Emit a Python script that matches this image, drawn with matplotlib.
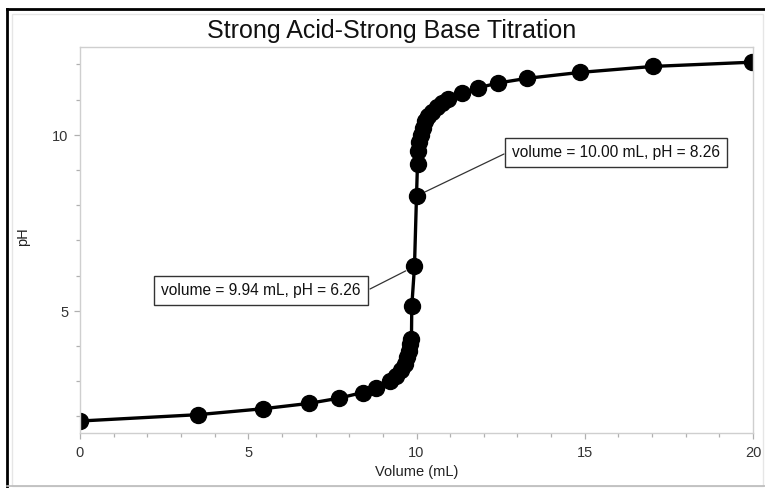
"""
Strong acid - strong base titration curve
"""

import matplotlib
matplotlib.use("Agg")
import matplotlib.pyplot as plt
from matplotlib.lines import Line2D
from matplotlib.patches import Rectangle
from matplotlib.ticker import MultipleLocator

plt.rcParams['font.family'] = ['Liberation Sans', 'DejaVu Sans']

# Data
volume = [0.00, 3.50, 5.45, 6.80, 7.70, 8.40, 8.80, 9.20, 9.40, 9.55, 9.65,
          9.72, 9.78, 9.82, 9.85, 9.86, 9.94, 10.00, 10.03, 10.05, 10.08,
          10.12, 10.18, 10.25, 10.35, 10.45, 10.60, 10.75, 10.95, 11.34,
          11.82, 12.43, 13.27, 14.86, 17.03, 19.97]
ph = [1.87, 2.05, 2.22, 2.37, 2.52, 2.68, 2.82, 3.00, 3.15, 3.32, 3.50,
      3.68, 3.85, 4.05, 4.20, 5.13, 6.26, 8.26, 9.18, 9.55, 9.80,
      10.00, 10.20, 10.38, 10.52, 10.65, 10.78, 10.90, 11.02, 11.18,
      11.33, 11.47, 11.60, 11.77, 11.94, 12.06]

note_vol = [9.94, 10.00]
note_ph = [6.26, 8.26]
note_text = ["volume = 9.94 mL, pH = 6.26", "volume = 10.00 mL, pH = 8.26"]

W, H = 765, 489
fig = plt.figure(figsize=(W / 100, H / 100), dpi=100)
ax = fig.add_axes([80 / W, 1 - 434 / H, (753 - 80) / W, (434 - 47.7) / H])

ax.plot(volume, ph, color='black', lw=2.4, marker='o', ms=11.5,
        markerfacecolor='black', markeredgecolor='black')

ax.set_xlim(0, 20)
ax.set_ylim(1.53, 12.5)
ax.xaxis.set_major_locator(MultipleLocator(5))
ax.xaxis.set_minor_locator(MultipleLocator(1))
ax.yaxis.set_major_locator(MultipleLocator(5))
ax.yaxis.set_minor_locator(MultipleLocator(1))

for s in ax.spines.values():
    s.set_color('#cfcfcf')
    s.set_linewidth(1.0)
ax.tick_params(which='major', direction='out', length=4.5, width=0.9,
               color='#b0b0b0', labelsize=10.5, labelcolor='#333333', pad=4)
ax.tick_params(which='minor', direction='out', length=3, width=0.9,
               color='#b0b0b0')

ax.set_xlabel("Volume (mL)", fontsize=10.5, color='#222222', labelpad=4)
ax.set_ylabel("pH", fontsize=10.5, color='#222222')
ax.yaxis.set_label_coords((30 - 80) / (753 - 80), 0.51)

# annotation boxes (text centre, box edge where the leader line meets it)
text_pos = [(261, 291), (616, 153)]
edge_pos = [(370, 290), (504, 155)]
box = dict(boxstyle='square,pad=0.45', fc='white', ec='#333333', lw=1.0)
for v, p, t, (tx, ty), (ex, ey) in zip(note_vol, note_ph, note_text,
                                        text_pos, edge_pos):
    ax.annotate("", xy=(v, p), xytext=(ex / W, 1 - ey / H),
                textcoords='figure fraction',
                arrowprops=dict(arrowstyle='-', color='#333333', lw=0.9,
                                shrinkA=0, shrinkB=7))
    fig.text(tx / W, 1 - ty / H, t, ha='center', va='center', fontsize=11.2,
             color='#111111', bbox=box)

fig.text(392 / W, 1 - 31 / H, "Strong Acid-Strong Base Titration",
         ha='center', va='center', fontsize=18, color='#111111')

# window frame around the figure
fig.add_artist(Rectangle((12 / W, 2 / H), (W - 14) / W, (H - 17) / H,
                         transform=fig.transFigure, fill=False,
                         ec='#e6e6e6', lw=1.0))
fig.add_artist(Line2D([7 / W, 7 / W], [0, 1 - 10 / H], color='black', lw=2.0,
                      transform=fig.transFigure))
fig.add_artist(Line2D([7 / W, 1], [1 - 10 / H, 1 - 10 / H], color='black',
                      lw=2.0, transform=fig.transFigure))
fig.add_artist(Line2D([7 / W, 1], [2 / H, 2 / H], color='#bbbbbb', lw=1.2,
                      transform=fig.transFigure))

fig.savefig("out.png", dpi=100)
